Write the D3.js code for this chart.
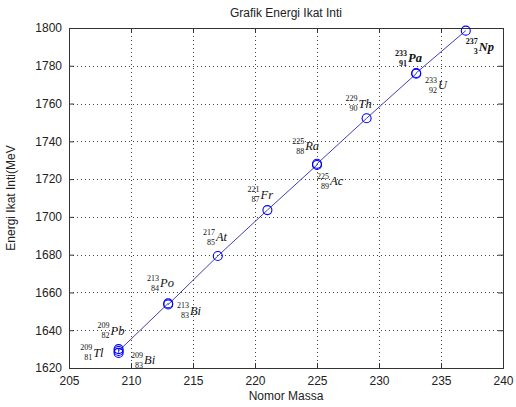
<!DOCTYPE html>
<html><head><meta charset="utf-8">
<script src="https://cdn.jsdelivr.net/npm/d3@7"></script>
<style>body{margin:0;background:#fff;}svg{display:block;}</style>
</head><body>
<svg id="chart" width="516" height="407"></svg>
<script>
// Data (in order of the plotted line)
const massNumbers = [209, 209, 209, 213, 213, 217, 221, 225, 225, 229, 233, 233, 237];
const bindingEnergy = [1628.0, 1630.0, 1629.0, 1654.2, 1653.6, 1679.3, 1703.6, 1727.5, 1728.1, 1752.2, 1775.8, 1776.2, 1798.6];
const symbols = ["Tl", "Pb", "Bi", "Po", "Bi", "At", "Fr", "Ra", "Ac", "Th", "Pa", "U", "Np"];
const atomicNumbers = ["81", "82", "83", "84", "83", "85", "87", "88", "89", "90", "91", "92", "3"];
const boldLabel = [false, false, false, false, false, false, false, false, false, false, true, false, true];
// label anchors in data units (left edge, vertical centre)
const labelX = [205.9, 207.3, 210.0, 211.3, 213.7, 215.8, 219.4, 223.0, 225.0, 227.3, 231.3, 233.7, 237.0];
const labelY = [1628.0, 1639.6, 1624.2, 1665.0, 1650.2, 1689.3, 1711.6, 1737.5, 1719.0, 1759.8, 1784.0, 1769.8, 1790.0];
const xTicks = [205, 210, 215, 220, 225, 230, 235, 240];
const yTicks = [1620, 1640, 1660, 1680, 1700, 1720, 1740, 1760, 1780, 1800];
const titleText = "Grafik Energi Ikat Inti";
const xLabelText = "Nomor Massa";
const yLabelText = "Energi Ikat Inti(MeV";

const svg = d3.select("#chart");
const m = {left: 69, right: 503, top: 28, bottom: 368};
const x = d3.scaleLinear().domain([205, 240]).range([m.left, m.right]);
const y = d3.scaleLinear().domain([1620, 1800]).range([m.bottom, m.top]);
const axisColor = "#333";
const font = "'Liberation Sans', Arial, sans-serif";

// grid
const g = svg.append("g");
g.selectAll(".gx").data(xTicks.slice(1, -1)).enter().append("line")
  .attr("x1", d => Math.round(x(d)) + 0.5).attr("x2", d => Math.round(x(d)) + 0.5)
  .attr("y1", m.top).attr("y2", m.bottom)
  .attr("stroke", "#444").attr("stroke-dasharray", "1,3");
g.selectAll(".gy").data(yTicks.slice(1, -1)).enter().append("line")
  .attr("y1", d => Math.round(y(d)) + 0.5).attr("y2", d => Math.round(y(d)) + 0.5)
  .attr("x1", m.left).attr("x2", m.right)
  .attr("stroke", "#444").attr("stroke-dasharray", "1,3");

// axes
const xAxis = d3.axisBottom(x).tickValues(xTicks).tickSize(-5).tickPadding(8).tickFormat(d3.format("d"));
const yAxis = d3.axisLeft(y).tickValues(yTicks).tickSize(-5).tickPadding(7).tickFormat(d3.format("d"));
const xTop = d3.axisTop(x).tickValues(xTicks).tickSize(-5).tickFormat("");
const yRight = d3.axisRight(y).tickValues(yTicks).tickSize(-5).tickFormat("");
function style(sel) {
  sel.select(".domain").remove();
  sel.selectAll("line").attr("stroke", axisColor);
  sel.selectAll("text").attr("fill", "#222").style("font-family", font).style("font-size", "12px");
}
svg.append("g").attr("transform", `translate(0,${m.bottom})`).call(xAxis).call(style);
svg.append("g").attr("transform", `translate(${m.left},0)`).call(yAxis).call(style);
svg.append("g").attr("transform", `translate(0,${m.top})`).call(xTop).call(style);
svg.append("g").attr("transform", `translate(${m.right},0)`).call(yRight).call(style);
svg.append("rect").attr("x", m.left + 0.5).attr("y", m.top + 0.5)
  .attr("width", m.right - m.left).attr("height", m.bottom - m.top)
  .attr("fill", "none").attr("stroke", axisColor);

// line + markers
const pts = massNumbers.map((d, i) => ({m: d, e: bindingEnergy[i]}));
svg.append("path").datum(pts)
  .attr("d", d3.line().x(d => x(d.m)).y(d => y(d.e)))
  .attr("fill", "none").attr("stroke", "#4040b8").attr("stroke-width", 1);
svg.selectAll(".pt").data(pts).enter().append("circle")
  .attr("cx", d => x(d.m)).attr("cy", d => y(d.e)).attr("r", 4.5)
  .attr("fill", "none").attr("stroke", "#0000ff").attr("stroke-width", 1.1);

// nuclide labels
const serif = "'Liberation Serif', 'Times New Roman', serif";
symbols.forEach((s, i) => {
  const lg = svg.append("g").attr("transform", `translate(${x(labelX[i])},${y(labelY[i])})`);
  const w = 12;
  lg.append("text").attr("x", w).attr("y", -2.5).attr("text-anchor", "end")
    .style("font-family", serif).style("font-size", "8px").attr("fill", "#111")
    .style("font-weight", boldLabel[i] ? "bold" : "normal").text(massNumbers[i]);
  lg.append("text").attr("x", w).attr("y", 7.5).attr("text-anchor", "end")
    .style("font-family", serif).style("font-size", "8px").attr("fill", "#111")
    .style("font-weight", boldLabel[i] ? "bold" : "normal").text(atomicNumbers[i]);
  lg.append("text").attr("x", w + 1).attr("y", 4)
    .style("font-family", serif).style("font-size", "12.5px").style("font-style", "italic")
    .style("font-weight", boldLabel[i] ? "bold" : "normal").attr("fill", "#111").text(s);
});

// titles
svg.append("text").attr("x", (m.left + m.right) / 2).attr("y", 17).attr("text-anchor", "middle")
  .style("font-family", font).style("font-size", "12px").attr("fill", "#222").text(titleText);
svg.append("text").attr("x", (m.left + m.right) / 2).attr("y", 400).attr("text-anchor", "middle")
  .style("font-family", font).style("font-size", "12px").attr("fill", "#222").text(xLabelText);
svg.append("text").attr("transform", `translate(15,${(m.top + m.bottom) / 2}) rotate(-90)`)
  .attr("text-anchor", "middle")
  .style("font-family", font).style("font-size", "12px").attr("fill", "#222").text(yLabelText);
</script>
</body></html>
